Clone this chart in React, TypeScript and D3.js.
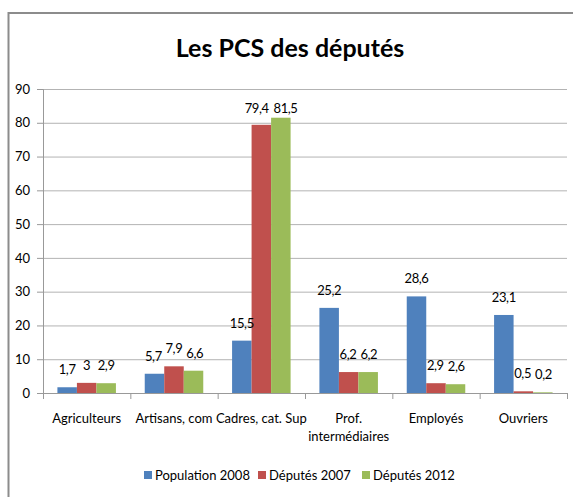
import * as React from "react";
import * as d3 from "d3";

const categories = ["Agriculteurs", "Artisans, com", "Cadres, cat. Sup", "Prof. intermédiaires", "Employés", "Ouvriers"];
const seriesNames = ["Population 2008", "Députés 2007", "Députés 2012"];
const population2008 = [1.7, 5.7, 15.5, 25.2, 28.6, 23.1];
const deputes2007 = [3, 7.9, 79.4, 6.2, 2.9, 0.5];
const deputes2012 = [2.9, 6.6, 81.5, 6.2, 2.6, 0.2];
const yTicks = [0, 10, 20, 30, 40, 50, 60, 70, 80, 90];

const colors = ["#4F81BD", "#C0504D", "#9BBB59"];
const font = "Lato, 'DejaVu Sans Condensed', sans-serif";

const W = 573, H = 497;
const margin = { left: 43, top: 89, right: 6, bottom: 104 };

export default function App() {
    const ref = React.useRef<SVGSVGElement>(null);

    React.useEffect(() => {
        const svg = d3.select(ref.current);
        svg.selectAll("*").remove();
        const series = [population2008, deputes2007, deputes2012];
        const width = W - margin.left - margin.right;
        const height = H - margin.top - margin.bottom;

        // chart frame
        svg.append("rect")
            .attr("x", 8.5).attr("y", 13)
            .attr("width", W + 10).attr("height", H + 10)
            .attr("fill", "#fff").attr("stroke", "#8c8c8c").attr("stroke-width", 2);

        svg.append("text")
            .attr("x", 290).attr("y", 57)
            .attr("text-anchor", "middle")
            .attr("font-family", font).attr("font-size", 25).attr("font-weight", "bold")
            .attr("fill", "#000")
            .text("Les PCS des députés");

        const g = svg.append("g").attr("transform", `translate(${margin.left},${margin.top})`);

        const x0 = d3.scaleBand().domain(categories).range([0, width]).paddingInner(0).paddingOuter(0);
        const x1 = d3.scaleBand().domain(seriesNames).range([x0.bandwidth() * 0.165, x0.bandwidth() * 0.835]);
        const y = d3.scaleLinear().domain([0, 90]).range([height, 0]);

        // gridlines
        g.append("g").selectAll("line")
            .data(yTicks.filter(t => t > 0))
            .enter().append("line")
            .attr("x1", 0).attr("x2", width)
            .attr("y1", d => y(d) + 0.5).attr("y2", d => y(d) + 0.5)
            .attr("stroke", "#b3b3b3").attr("stroke-width", 1);

        // y axis
        const yAxis = g.append("g")
            .call(d3.axisLeft(y).tickValues(yTicks).tickSize(6).tickPadding(7).tickFormat(d3.format("d")));
        yAxis.select(".domain").attr("stroke", "#999");
        yAxis.selectAll(".tick line").attr("stroke", "#999");
        yAxis.selectAll("text").attr("font-family", font).attr("font-size", 13).attr("fill", "#000");

        // bars
        const groups = g.append("g").selectAll("g")
            .data(categories)
            .enter().append("g")
            .attr("transform", d => `translate(${x0(d)},0)`);

        groups.selectAll("rect")
            .data((d, i) => seriesNames.map((s, j) => ({ s, v: series[j][i], j })))
            .enter().append("rect")
            .attr("x", d => x1(d.s)!)
            .attr("y", d => y(d.v))
            .attr("width", x1.bandwidth())
            .attr("height", d => y(0) - y(d.v))
            .attr("fill", d => colors[d.j]);

        // value labels, kept inside the plot top and nudged apart when they collide
        groups.each(function () {
            const labs = d3.select(this).selectAll("text.val")
                .data((d: any) => {
                    const i = categories.indexOf(d);
                    return seriesNames.map((s, j) => ({ s, v: series[j][i], j }));
                })
                .enter().append("text")
                .attr("class", "val")
                .attr("x", d => x1(d.s)! + x1.bandwidth() / 2)
                .attr("y", d => Math.max(y(d.v) - 13, 24))
                .attr("text-anchor", "middle")
                .attr("font-family", font).attr("font-size", 13).attr("letter-spacing", -0.4).attr("fill", "#000")
                .text(d => String(d.v).replace(".", ","));
            const nodes = labs.nodes() as SVGTextElement[];
            for (let k = 1; k < nodes.length; k++) {
                const a = nodes[k - 1].getBBox();
                const b = nodes[k].getBBox();
                const overlapY = a.y < b.y + b.height && b.y < a.y + a.height;
                const gap = b.x - (a.x + a.width);
                if (overlapY && gap < 4) {
                    const shift = (4 - gap) / 2;
                    nodes[k - 1].setAttribute("x", String(+nodes[k - 1].getAttribute("x")! - shift));
                    nodes[k].setAttribute("x", String(+nodes[k].getAttribute("x")! + shift));
                }
            }
        });

        // x axis
        g.append("line")
            .attr("x1", 0).attr("x2", width)
            .attr("y1", height + 0.5).attr("y2", height + 0.5)
            .attr("stroke", "#999");
        g.append("g").selectAll("line")
            .data(d3.range(categories.length + 1))
            .enter().append("line")
            .attr("x1", i => i * x0.bandwidth() + 0.5).attr("x2", i => i * x0.bandwidth() + 0.5)
            .attr("y1", height).attr("y2", height + 6)
            .attr("stroke", "#999");

        const catLines: Record<string, string[]> = { "Prof. intermédiaires": ["Prof.", "intermédiaires"] };
        const labels = g.append("g").selectAll("text")
            .data(categories)
            .enter().append("text")
            .attr("x", d => x0(d)! + x0.bandwidth() / 2)
            .attr("y", height + 30)
            .attr("text-anchor", "middle")
            .attr("font-family", font).attr("font-size", 13).attr("fill", "#000");
        labels.each(function (d) {
            const lines = catLines[d] || [d];
            const t = d3.select(this);
            lines.forEach((l, i) => {
                t.append("tspan").attr("x", x0(d)! + x0.bandwidth() / 2).attr("dy", i === 0 ? 0 : 18).text(l);
            });
        });

        // legend
        const legendX = [144, 258, 362];
        const legend = svg.append("g").selectAll("g")
            .data(seriesNames)
            .enter().append("g")
            .attr("transform", (d, i) => `translate(${legendX[i]},471)`);
        legend.append("rect").attr("width", 8).attr("height", 8).attr("fill", (d, i) => colors[i]);
        legend.append("text")
            .attr("x", 11).attr("y", 9)
            .attr("font-family", font).attr("font-size", 13).attr("fill", "#000")
            .text(d => d);
    }, []);

    return <svg ref={ref} width={W} height={H} style={{ position: "absolute", left: 0, top: 0 }}></svg>;
}
